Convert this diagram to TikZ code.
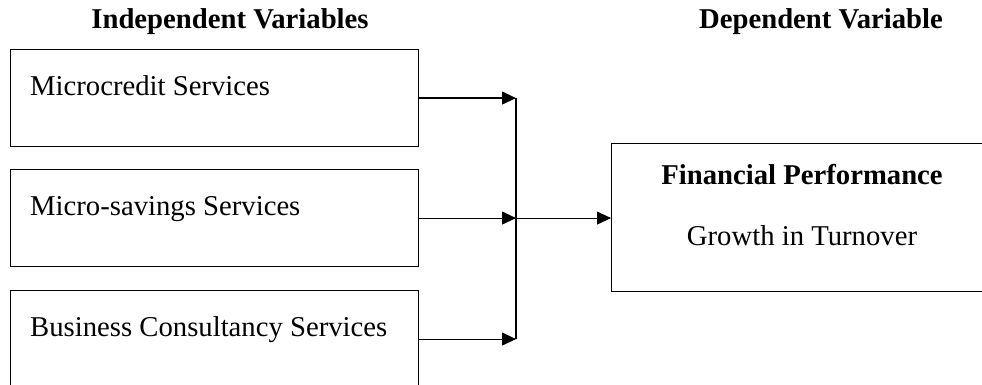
\documentclass[tikz,border=0pt]{standalone}
\usepackage{fontspec}
\setmainfont{Liberation Serif}
\usetikzlibrary{arrows.meta}
\begin{document}
\begin{tikzpicture}[x=1pt,y=1pt,
  box/.style={draw=black,line width=1.1pt,inner sep=0pt,anchor=north west},
  lbl/.style={font=\fontsize{28.7}{34}\selectfont,inner sep=0pt,anchor=base west},
  ttl/.style={font=\fontsize{28.7}{34}\selectfont\bfseries,inner sep=0pt,anchor=base},
  arr/.style={line width=1.1pt,-{Triangle[length=14pt,width=13pt]}},
  ln/.style={line width=1.1pt}]
\useasboundingbox (0,0) rectangle (982,-385);
\clip (0,0) rectangle (982,-385);
% titles
\node[ttl] (tind) at (230,-29) {Independent Variables};
\node[ttl] (tdep) at (821,-29) {Dependent Variable};
% independent boxes
\node[box,minimum width=408pt,minimum height=97pt] (b1) at (10,-49) {};
\node[box,minimum width=408pt,minimum height=97pt] (b2) at (10,-169) {};
\node[box,minimum width=408pt,minimum height=97pt] (b3) at (10,-290) {};
\node[lbl] (l1) at (30,-96) {Microcredit Services};
\node[lbl] (l2) at (30,-215) {Micro-savings Services};
\node[lbl] (l3) at (30,-336) {Business Consultancy Services};
% dependent box
\node[box,minimum width=400pt,minimum height=148pt] (res) at (611,-142.5) {};
\node[ttl] (r1) at (802,-184) {Financial Performance};
\node[ttl,font=\fontsize{28.7}{34}\selectfont] (r2) at (802,-245) {Growth in Turnover};
% junction points
\coordinate (j1) at (b1.east -| 516,0);
\coordinate (j2) at (b2.east -| 516,0);
\coordinate (j3) at (b3.east -| 516,0);
\draw[arr] (b1.east) -- (j1);
\draw[arr] (b2.east) -- (j2);
\draw[arr] (b3.east) -- (j3);
\draw[ln] (j1) -- (j3);
\draw[arr] (j2) -- (res.west |- j2);
\end{tikzpicture}
\end{document}
